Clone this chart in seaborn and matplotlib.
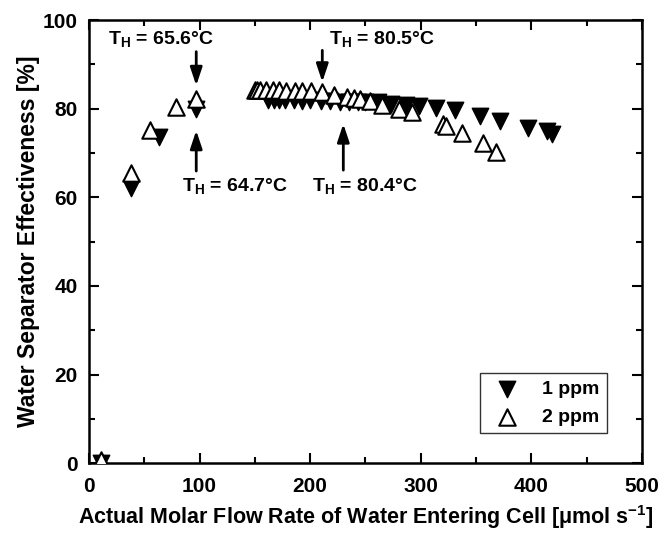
import matplotlib
matplotlib.use("Agg")
import matplotlib.pyplot as plt
import seaborn as sns
from matplotlib.ticker import MultipleLocator

sns.set_theme(style="ticks")
plt.rcParams["font.family"] = ["Liberation Sans", "DejaVu Sans"]
plt.rcParams["font.weight"] = "bold"
plt.rcParams["text.color"] = "black"
plt.rcParams["axes.labelcolor"] = "black"
plt.rcParams["xtick.color"] = "black"
plt.rcParams["ytick.color"] = "black"
plt.rcParams["mathtext.fontset"] = "custom"
plt.rcParams["mathtext.rm"] = "Liberation Sans:bold"
plt.rcParams["mathtext.bf"] = "Liberation Sans:bold"
plt.rcParams["mathtext.it"] = "Liberation Sans:bold"
plt.rcParams["mathtext.default"] = "rm"

# 1 ppm (filled down triangles)
x_1ppm = [11, 38, 63, 97, 162, 167, 172, 177, 185, 193, 200, 210, 218, 227, 235,
          243, 250, 261, 273, 287, 298, 314, 331, 354, 372, 397, 414, 419]
y_1ppm = [0, 62, 73.5, 80, 82, 82, 81.9, 82, 81.9, 81.8, 81.9, 81.8, 81.7, 81.6, 81.6,
          81.5, 81.5, 81.4, 81.1, 80.9, 80.7, 80.1, 79.6, 78.3, 77.3, 75.6, 75, 74.3]

# 2 ppm (open up triangles)
x_2ppm = [11, 38, 55, 79, 97, 150, 152, 155, 160, 166, 172, 178, 186, 193, 201,
          211, 222, 233, 240, 245, 254, 265, 280, 292, 320, 323, 337, 356, 368]
y_2ppm = [0.6, 65.5, 75.3, 80.4, 82.3, 84.2, 84.3, 84.2, 84.3, 84.2, 84.3, 84.1, 84.1, 84, 84,
          83.8, 83.2, 82.7, 82.4, 82.1, 81.7, 80.9, 80, 79.2, 76.6, 76.2, 74.6, 72.3, 70.3]

labels = ["1 ppm", "2 ppm"]

fig = plt.figure(figsize=(6.71, 5.36), dpi=100)
ax = fig.add_axes([0.1326, 0.136, 0.824, 0.8265])

sns.scatterplot(x=x_1ppm, y=y_1ppm, marker="v", s=140, color="black",
                edgecolor="black", linewidth=1.0, label=labels[0], ax=ax, zorder=3)
sns.scatterplot(x=x_2ppm, y=y_2ppm, marker="^", s=140, facecolor="white",
                edgecolor="black", linewidth=1.5, label=labels[1], ax=ax, zorder=4)

ax.set_xlim(0, 500)
ax.set_ylim(0, 100)
ax.xaxis.set_major_locator(MultipleLocator(100))
ax.xaxis.set_minor_locator(MultipleLocator(50))
ax.yaxis.set_major_locator(MultipleLocator(20))
ax.yaxis.set_minor_locator(MultipleLocator(10))
ax.tick_params(which="both", direction="in", top=True, right=True, width=1.5,
               labelsize=15, colors="black")
ax.tick_params(which="major", length=7)
ax.tick_params(axis="x", which="major", pad=10)
ax.tick_params(axis="y", which="major", pad=8)
ax.tick_params(which="minor", length=4)
for lab in ax.get_xticklabels() + ax.get_yticklabels():
    lab.set_fontweight("bold")
for sp in ax.spines.values():
    sp.set_linewidth(1.8)
    sp.set_color("black")

ax.set_xlabel(r"Actual Molar Flow Rate of Water Entering Cell [$\mu$mol s$^{-1}$]",
              fontsize=15.5, fontweight="bold", labelpad=5)
ax.set_ylabel("Water Separator Effectiveness [%]", fontsize=16.5, fontweight="bold", labelpad=2)

ann = dict(fontsize=14, fontweight="bold", ha="center", va="center", color="black")
arrow = dict(arrowstyle="-|>,head_length=0.9,head_width=0.3", color="black", lw=2)
ax.text(65, 95.8, r"T$_{\mathrm{H}}$ = 65.6°C", **ann)
ax.annotate("", xy=(97, 84.6), xytext=(97, 93.5), arrowprops=arrow)
ax.text(265, 95.8, r"T$_{\mathrm{H}}$ = 80.5°C", **ann)
ax.annotate("", xy=(211, 85.4), xytext=(211, 93.8), arrowprops=arrow)
ax.text(132, 62.6, r"T$_{\mathrm{H}}$ = 64.7°C", **ann)
ax.annotate("", xy=(97, 75.7), xytext=(97, 65.3), arrowprops=arrow)
ax.text(250, 62.6, r"T$_{\mathrm{H}}$ = 80.4°C", **ann)
ax.annotate("", xy=(230, 77.2), xytext=(230, 65.5), arrowprops=arrow)

leg = ax.legend(loc="lower right", bbox_to_anchor=(0.955, 0.045), fontsize=14,
                frameon=True, fancybox=False, edgecolor="black", handletextpad=0.8,
                borderpad=0.4, markerscale=1.0)
leg.get_frame().set_linewidth(1.0)
for t in leg.get_texts():
    t.set_fontweight("bold")
    t.set_color("black")

fig.savefig("out.png", dpi=100)
